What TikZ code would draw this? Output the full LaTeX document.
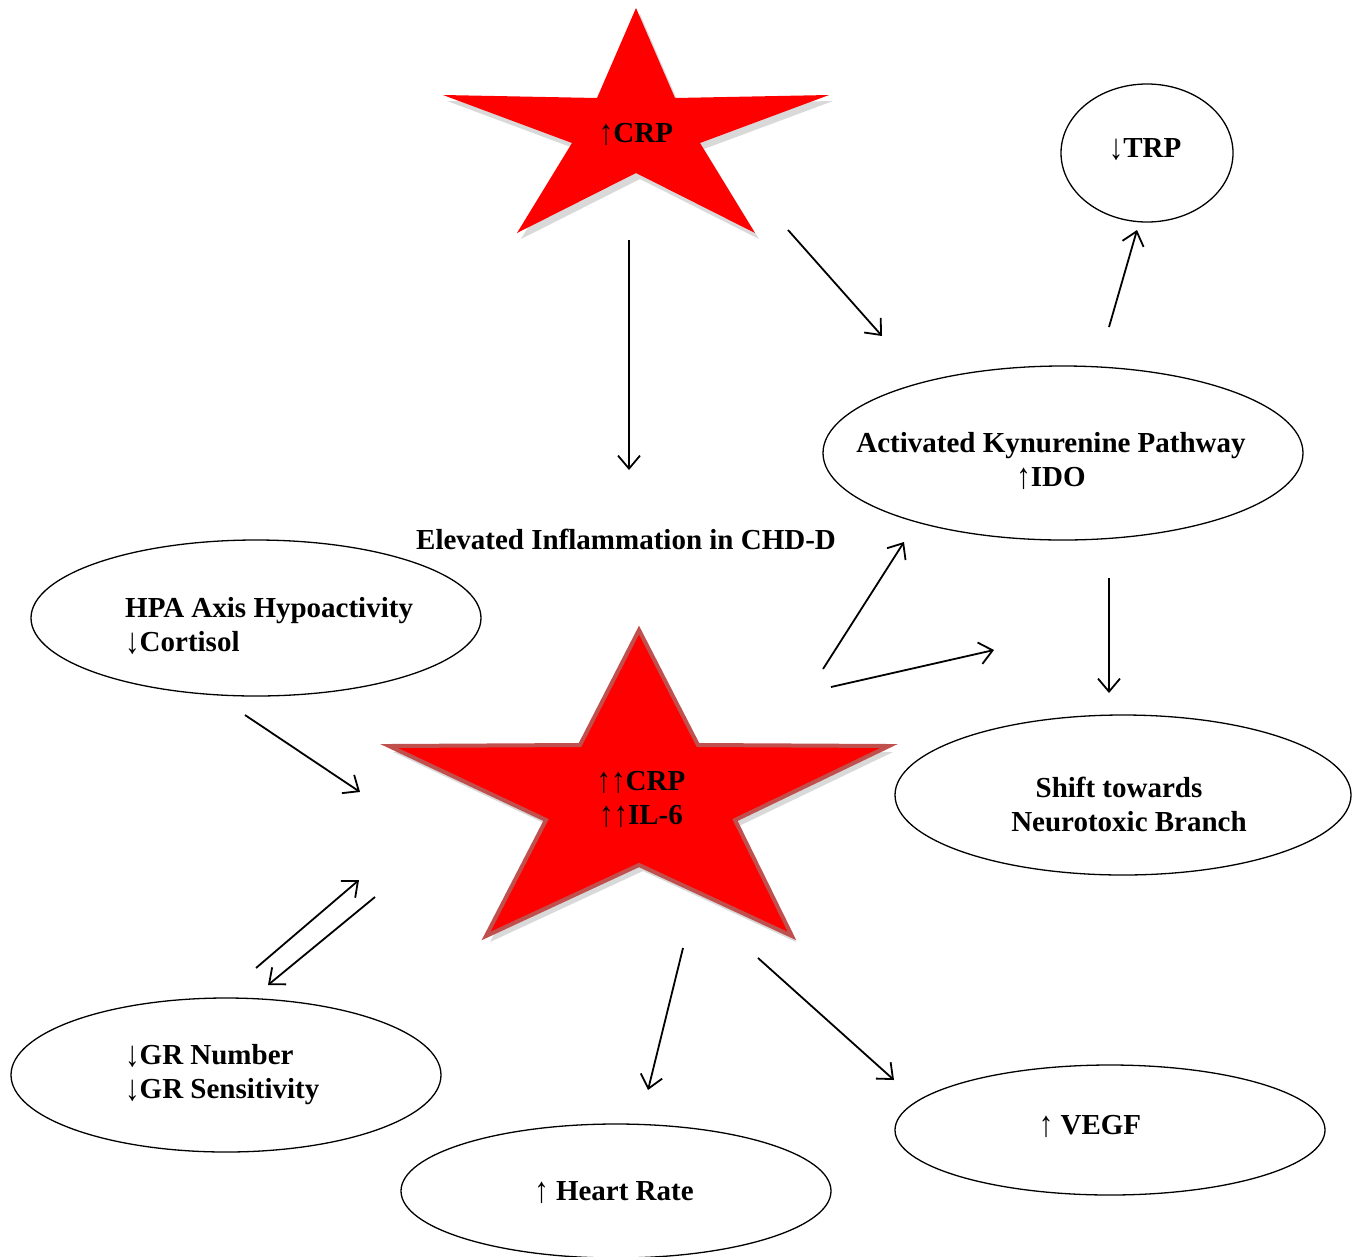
\documentclass[tikz,border=0pt]{standalone}
\usepackage{fontspec}
\setmainfont{Liberation Serif}
\usetikzlibrary{arrows.meta,shadows}
\newcommand{\upa}{\raisebox{-2pt}{\scalebox{1}[1.25]{↑}}}
\newcommand{\dna}{\raisebox{-2pt}{\scalebox{1}[1.25]{↓}}}
\begin{document}
\begin{tikzpicture}[x=1pt,y=-1pt,
  lab/.style={font=\fontsize{29}{34}\selectfont\bfseries, align=center, inner sep=0pt},
  labl/.style={font=\fontsize{29}{34}\selectfont\bfseries, align=left, inner sep=0pt, anchor=west},
  oval/.style={draw=black, line width=1.3pt},
  conn/.style={line width=1.8pt, -{Straight Barb[length=13pt,width=22pt,line width=1.8pt]}},
  starfill/.style={fill=red, drop shadow={opacity=0.3, shadow xshift=4pt, shadow yshift=-6pt}}
]
\useasboundingbox (0,0) rectangle (1362,1256);
% ellipses
\draw[oval] (1147,153) ellipse [x radius=86, y radius=69];
\draw[oval] (1063,453) ellipse [x radius=240, y radius=87];
\draw[oval] (256,618) ellipse [x radius=225, y radius=78];
\draw[oval] (1123,795) ellipse [x radius=228, y radius=80];
\draw[oval] (226,1075) ellipse [x radius=215, y radius=77];
\draw[oval] (616,1191) ellipse [x radius=215, y radius=67];
\draw[oval] (1110,1130) ellipse [x radius=215, y radius=65];
% stars
\path[starfill] (636,8) -- (675,98) -- (829,95) -- (700,143) -- (755,233) -- (636,173)
  -- (517,233) -- (572,143) -- (443,95) -- (597,98) -- cycle;
\path[starfill, draw={rgb,255:red,192;green,80;blue,77}, line width=4pt, line join=miter]
  (639,630) -- (698,745) -- (889,746) -- (735,820) -- (792,936) -- (639,865)
  -- (486,936) -- (546,820) -- (389,746) -- (580,745) -- cycle;
% labels
\node[lab] (crp1) at (636,134) {\upa CRP};
\node[lab] (crp2) at (641,799) {\upa\upa CRP\\\upa\upa IL-6};
\node[lab] (trp) at (1145,150) {\dna TRP};
\node[lab] (kyn) at (1051,461) {Activated Kynurenine Pathway\\\upa IDO};
\node[lab] (infl) at (626,539) {Elevated Inflammation in CHD-D};
\node[labl] (hpa) at (125,626) {HPA Axis Hypoactivity\\\dna Cortisol};
\node[lab] (shift) at (1119,804) {Shift towards\\\hspace*{20pt}Neurotoxic Branch};
\node[labl] (gr) at (125,1075) {\dna GR Number\\\dna GR Sensitivity};
\node[lab] (hr) at (614,1193) {\upa\ Heart Rate};
\node[lab] (vegf) at (1090,1126) {\upa\ VEGF};
% arrow endpoints
\coordinate (a1s) at (629,240); \coordinate (a1e) at (629,470);
\coordinate (a2s) at (788,230); \coordinate (a2e) at (882,336);
\coordinate (a3s) at (1109,327); \coordinate (a3e) at (1137,230);
\coordinate (a4s) at (1109,578); \coordinate (a4e) at (1109,693);
\coordinate (a5s) at (823,669); \coordinate (a5e) at (904,542);
\coordinate (a6s) at (831,687); \coordinate (a6e) at (994,650);
\coordinate (a7s) at (245,715); \coordinate (a7e) at (360,792);
\coordinate (a8s) at (256,968); \coordinate (a8e) at (359,880);
\coordinate (a9s) at (375,897); \coordinate (a9e) at (268,985);
\coordinate (a10s) at (683,948); \coordinate (a10e) at (648,1090);
\coordinate (a11s) at (758,958); \coordinate (a11e) at (894,1080);
\foreach \i in {1,...,11} { \draw[conn] (a\i s) -- (a\i e); }
\end{tikzpicture}
\end{document}
